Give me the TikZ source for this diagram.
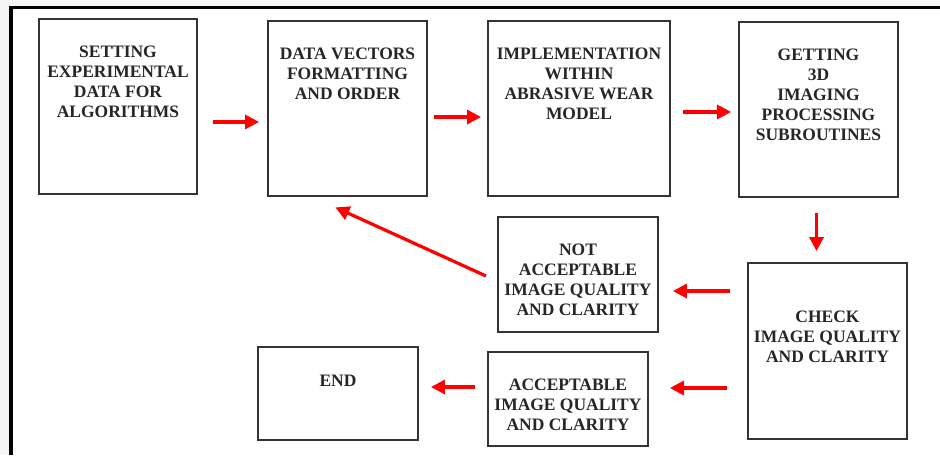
\documentclass[tikz,border=0pt]{standalone}
\usepackage{fontspec}
\setmainfont{Liberation Serif}
\usetikzlibrary{arrows.meta, positioning, calc}

\begin{document}
\begin{tikzpicture}[x=0.75pt, y=-0.75pt,
  blk/.style={draw=black!80, line width=1.4pt, inner sep=0pt},
  txt/.style={font=\bfseries\fontsize{13.1}{15}\selectfont, align=center, inner sep=0pt, text=black!85},
  flow/.style={draw=red, line width=2.4pt, -{Triangle[length=10.5pt, width=10.5pt]}}]

% Frame
\useasboundingbox (0,0) rectangle (940,455);
\fill[gray!8] (0,0) rectangle (940,455);
\fill[white] (11,7.5) rectangle (940,455);
\draw[line width=2.4pt] (11,455) -- (11,7.5) -- (940,7.5);

% Top row
\node[blk, minimum width=118.5pt, minimum height=131.25pt] (set) at (118,106.5) {};
\node[blk, minimum width=119.25pt, minimum height=131.25pt] (vec) at (347.5,108.5) {};
\node[blk, minimum width=136.5pt, minimum height=131.25pt] (impl) at (579,108.5) {};
\node[blk, minimum width=119.25pt, minimum height=131.25pt] (get) at (818.5,109.5) {};

% Lower rows
\node[blk, minimum width=120pt, minimum height=86.25pt] (notacc) at (578,274.5) {};
\node[blk, minimum width=119.25pt, minimum height=132pt] (check) at (827.5,351) {};
\node[blk, minimum width=120pt, minimum height=70.5pt] (acc) at (568,399) {};
\node[blk, minimum width=120pt, minimum height=69.75pt] (end) at (338,393.5) {};

% Labels
\node[txt, below=21pt of set.north] (settxt) {SETTING\\EXPERIMENTAL\\DATA FOR\\ALGORITHMS};
\node[txt, below=21pt of vec.north] (vectxt) {DATA VECTORS\\FORMATTING\\AND ORDER};
\node[txt, below=21pt of impl.north] (impltxt) {IMPLEMENTATION\\WITHIN\\ABRASIVE WEAR\\MODEL};
\node[txt, below=21pt of get.north] (gettxt) {GETTING\\3D\\IMAGING\\PROCESSING\\SUBROUTINES};
\node[txt, below=21pt of notacc.north] (notacctxt) {NOT\\ACCEPTABLE\\IMAGE QUALITY\\AND CLARITY};
\node[txt, below=36.75pt of check.north] (checktxt) {CHECK\\IMAGE QUALITY\\AND CLARITY};
\node[txt, below=21pt of acc.north] (acctxt) {ACCEPTABLE\\IMAGE QUALITY\\AND CLARITY};
\node[txt, below=21.75pt of end.north] (endtxt) {END};

% Arrows
\draw[flow, shorten <=11.25pt, shorten >=6pt] ([yshift=-11.6pt]set.east) -- ([yshift=-11.6pt]set.east -| vec.west);
\draw[flow, shorten <=4.5pt, shorten >=4.5pt] ([yshift=-6.4pt]vec.east) -- ([yshift=-6.4pt]vec.east -| impl.west);
\draw[flow, shorten <=9pt, shorten >=5.25pt] ([yshift=-2.6pt]impl.east) -- ([yshift=-2.6pt]impl.east -| get.west);
\draw[flow, shorten <=11.25pt, shorten >=8.25pt] ([xshift=-1.5pt]get.south) -- ([xshift=-1.5pt]get.south |- check.north);
\draw[flow, shorten <=12.75pt, shorten >=10.5pt] ([yshift=45pt]check.west) -- ([yshift=45pt]check.west -| notacc.east);
\draw[flow, shorten <=15pt, shorten >=15.75pt] ([yshift=-27.75pt]check.west) -- ([yshift=-27.75pt]check.west -| acc.east);
\draw[flow, shorten <=9pt, shorten >=9pt] ([yshift=9pt]acc.west) -- ([yshift=9pt]acc.west -| end.east);
\draw[flow, shorten <=9.2pt, shorten >=18.9pt] ([yshift=-4.9pt]notacc.west) -- ([xshift=-26.3pt]vec.south);
\end{tikzpicture}
\end{document}
